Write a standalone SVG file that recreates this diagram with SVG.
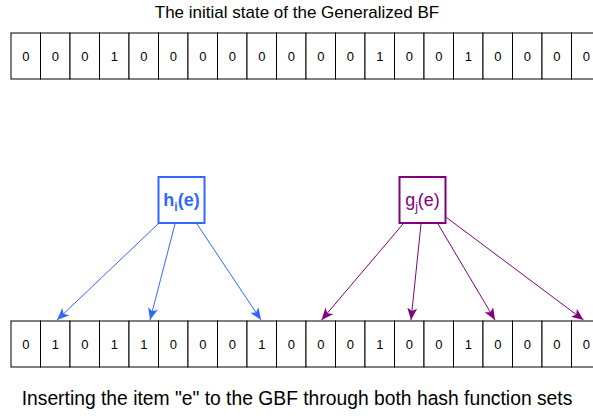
<svg xmlns="http://www.w3.org/2000/svg" width="593" height="416" viewBox="0 0 593 416">
<style>
.cell{fill:#fff;stroke:#000;stroke-width:1}
.d{font-family:"Liberation Sans",Arial,sans-serif;font-size:13px;fill:#000;text-anchor:middle}
.t{font-family:"Liberation Sans",Arial,sans-serif;fill:#000;text-anchor:middle}
.b{stroke:#3366FF;stroke-width:1;fill:none}
.p{stroke:#800080;stroke-width:1;fill:none}
</style>
<defs>
<marker id="ab" viewBox="0 0 12 10" refX="12" refY="5" markerWidth="12" markerHeight="10" orient="auto" markerUnits="userSpaceOnUse"><path d="M0,0 L12,5 L0,10 L3,5 z" fill="#3366FF"/></marker>
<marker id="ap" viewBox="0 0 12 10" refX="12" refY="5" markerWidth="12" markerHeight="10" orient="auto" markerUnits="userSpaceOnUse"><path d="M0,0 L12,5 L0,10 L3,5 z" fill="#800080"/></marker>
</defs>
<rect width="593" height="416" fill="#fff"/>
<text class="t" x="297" y="18" font-size="17">The initial state of the Generalized BF</text>
<g id="initial-array">
<rect class="cell" x="11" y="33" width="29.5" height="46"/><text class="d" x="25.75" y="61">0</text>
<rect class="cell" x="40.5" y="33" width="29.5" height="46"/><text class="d" x="55.25" y="61">0</text>
<rect class="cell" x="70" y="33" width="29.5" height="46"/><text class="d" x="84.75" y="61">0</text>
<rect class="cell" x="99.5" y="33" width="29.5" height="46"/><text class="d" x="114.25" y="61">1</text>
<rect class="cell" x="129" y="33" width="29.5" height="46"/><text class="d" x="143.75" y="61">0</text>
<rect class="cell" x="158.5" y="33" width="29.5" height="46"/><text class="d" x="173.25" y="61">0</text>
<rect class="cell" x="188" y="33" width="29.5" height="46"/><text class="d" x="202.75" y="61">0</text>
<rect class="cell" x="217.5" y="33" width="29.5" height="46"/><text class="d" x="232.25" y="61">0</text>
<rect class="cell" x="247" y="33" width="29.5" height="46"/><text class="d" x="261.75" y="61">0</text>
<rect class="cell" x="276.5" y="33" width="29.5" height="46"/><text class="d" x="291.25" y="61">0</text>
<rect class="cell" x="306" y="33" width="29.5" height="46"/><text class="d" x="320.75" y="61">0</text>
<rect class="cell" x="335.5" y="33" width="29.5" height="46"/><text class="d" x="350.25" y="61">0</text>
<rect class="cell" x="365" y="33" width="29.5" height="46"/><text class="d" x="379.75" y="61">1</text>
<rect class="cell" x="394.5" y="33" width="29.5" height="46"/><text class="d" x="409.25" y="61">0</text>
<rect class="cell" x="424" y="33" width="29.5" height="46"/><text class="d" x="438.75" y="61">0</text>
<rect class="cell" x="453.5" y="33" width="29.5" height="46"/><text class="d" x="468.25" y="61">1</text>
<rect class="cell" x="483" y="33" width="29.5" height="46"/><text class="d" x="497.75" y="61">0</text>
<rect class="cell" x="512.5" y="33" width="29.5" height="46"/><text class="d" x="527.25" y="61">0</text>
<rect class="cell" x="542" y="33" width="29.5" height="46"/><text class="d" x="556.75" y="61">0</text>
<rect class="cell" x="571.5" y="33" width="29.5" height="46"/><text class="d" x="586.25" y="61">0</text>
</g>
<g id="h-node">
<rect x="158.5" y="177" width="46" height="46" fill="#fff" stroke="#3366FF" stroke-width="2"/>
<text x="181.5" y="206" font-family="'Liberation Sans',Arial,sans-serif" font-size="18" font-weight="bold" fill="#3366FF" text-anchor="middle">h<tspan font-size="12" dy="5">i</tspan><tspan dy="-5">(e)</tspan></text>
</g>
<g id="g-node">
<rect x="399.5" y="177" width="46" height="46" fill="#fff" stroke="#800080" stroke-width="2"/>
<text x="422.5" y="206" font-family="'Liberation Sans',Arial,sans-serif" font-size="18" fill="#800080" text-anchor="middle">g<tspan font-size="12" dy="5">j</tspan><tspan dy="-5">(e)</tspan></text>
</g>
<g id="connectors">
<line class="b" x1="158" y1="224" x2="57" y2="320" marker-end="url(#ab)"/>
<line class="b" x1="175" y1="224" x2="150" y2="320" marker-end="url(#ab)"/>
<line class="b" x1="197" y1="224" x2="261" y2="320" marker-end="url(#ab)"/>
<line class="p" x1="403" y1="224" x2="321.5" y2="320" marker-end="url(#ap)"/>
<line class="p" x1="421" y1="224" x2="411" y2="320" marker-end="url(#ap)"/>
<line class="p" x1="438" y1="224" x2="495" y2="320" marker-end="url(#ap)"/>
<line class="p" x1="446.5" y1="217.5" x2="583.5" y2="320" marker-end="url(#ap)"/>
</g>
<g id="result-array">
<rect class="cell" x="11" y="321" width="29.5" height="46"/><text class="d" x="25.75" y="349">0</text>
<rect class="cell" x="40.5" y="321" width="29.5" height="46"/><text class="d" x="55.25" y="349">1</text>
<rect class="cell" x="70" y="321" width="29.5" height="46"/><text class="d" x="84.75" y="349">0</text>
<rect class="cell" x="99.5" y="321" width="29.5" height="46"/><text class="d" x="114.25" y="349">1</text>
<rect class="cell" x="129" y="321" width="29.5" height="46"/><text class="d" x="143.75" y="349">1</text>
<rect class="cell" x="158.5" y="321" width="29.5" height="46"/><text class="d" x="173.25" y="349">0</text>
<rect class="cell" x="188" y="321" width="29.5" height="46"/><text class="d" x="202.75" y="349">0</text>
<rect class="cell" x="217.5" y="321" width="29.5" height="46"/><text class="d" x="232.25" y="349">0</text>
<rect class="cell" x="247" y="321" width="29.5" height="46"/><text class="d" x="261.75" y="349">1</text>
<rect class="cell" x="276.5" y="321" width="29.5" height="46"/><text class="d" x="291.25" y="349">0</text>
<rect class="cell" x="306" y="321" width="29.5" height="46"/><text class="d" x="320.75" y="349">0</text>
<rect class="cell" x="335.5" y="321" width="29.5" height="46"/><text class="d" x="350.25" y="349">0</text>
<rect class="cell" x="365" y="321" width="29.5" height="46"/><text class="d" x="379.75" y="349">1</text>
<rect class="cell" x="394.5" y="321" width="29.5" height="46"/><text class="d" x="409.25" y="349">0</text>
<rect class="cell" x="424" y="321" width="29.5" height="46"/><text class="d" x="438.75" y="349">0</text>
<rect class="cell" x="453.5" y="321" width="29.5" height="46"/><text class="d" x="468.25" y="349">1</text>
<rect class="cell" x="483" y="321" width="29.5" height="46"/><text class="d" x="497.75" y="349">0</text>
<rect class="cell" x="512.5" y="321" width="29.5" height="46"/><text class="d" x="527.25" y="349">0</text>
<rect class="cell" x="542" y="321" width="29.5" height="46"/><text class="d" x="556.75" y="349">0</text>
<rect class="cell" x="571.5" y="321" width="29.5" height="46"/><text class="d" x="586.25" y="349">0</text>
</g>
<text class="t" x="297" y="405" font-size="19.3">Inserting the item "e" to the GBF through both hash function sets</text>
</svg>
